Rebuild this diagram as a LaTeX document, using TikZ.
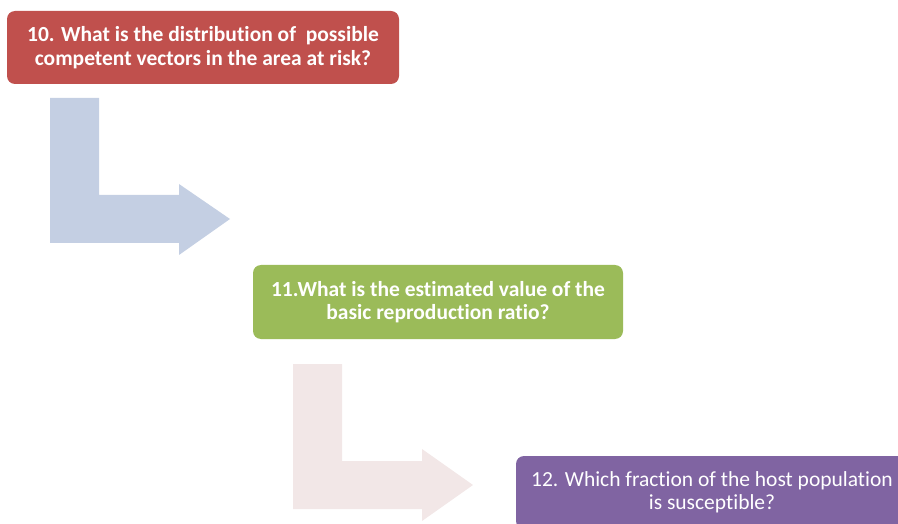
\documentclass[tikz,border=0pt]{standalone}
\usepackage{fontspec}
\setmainfont{Carlito}[Ligatures=NoCommon]
\usepackage{xcolor}

\definecolor{qred}{HTML}{C0504D}
\definecolor{qgreen}{HTML}{9BBB59}
\definecolor{qpurple}{HTML}{8064A2}
\definecolor{bendblue}{HTML}{C4CFE3}
\definecolor{bendpink}{HTML}{F2E7E7}

\tikzset{
    question/.style={rectangle, rounded corners=8pt, text=white, align=center,
        font=\fontsize{21.5}{23.5}\selectfont, inner sep=0pt},
}

\begin{document}
\begin{tikzpicture}[x=1pt, y=-1pt]

    \useasboundingbox (0, 0) rectangle (898, 524);
    \clip (0, 0) rectangle (898, 524);

    % Bent arrows
    
    \fill[bendblue] (50, 98) -- (99, 98) -- (99, 195) -- (179, 195) -- (179, 184)
        -- (230, 219) -- (179, 255) -- (179, 243) -- (50, 243) -- cycle;

    \fill[bendpink] (293, 364) -- (342, 364) -- (342, 461) -- (422, 461) -- (422, 449)
        -- (473, 485) -- (422, 521) -- (422, 509) -- (293, 509) -- cycle;

    % Question boxes

    \node[question, fill=qred, minimum width=392pt, minimum height=73pt, font=\fontsize{21.5}{23.5}\selectfont\bfseries]
        (q10) at (203, 47.5) {10. What is the distribution of \ possible\\competent vectors in the area at risk?};

    \node[question, fill=qgreen, minimum width=370pt, minimum height=74pt, font=\fontsize{21.5}{23.5}\selectfont\bfseries]
        (q11) at (438, 302) {11.What is the estimated value of the\\basic reproduction ratio?};

    \node[question, fill=qpurple, minimum width=392pt, minimum height=73pt]
        (q12) at (712, 492.5) {12. Which fraction of the host population\\is susceptible?};

\end{tikzpicture}
\end{document}
